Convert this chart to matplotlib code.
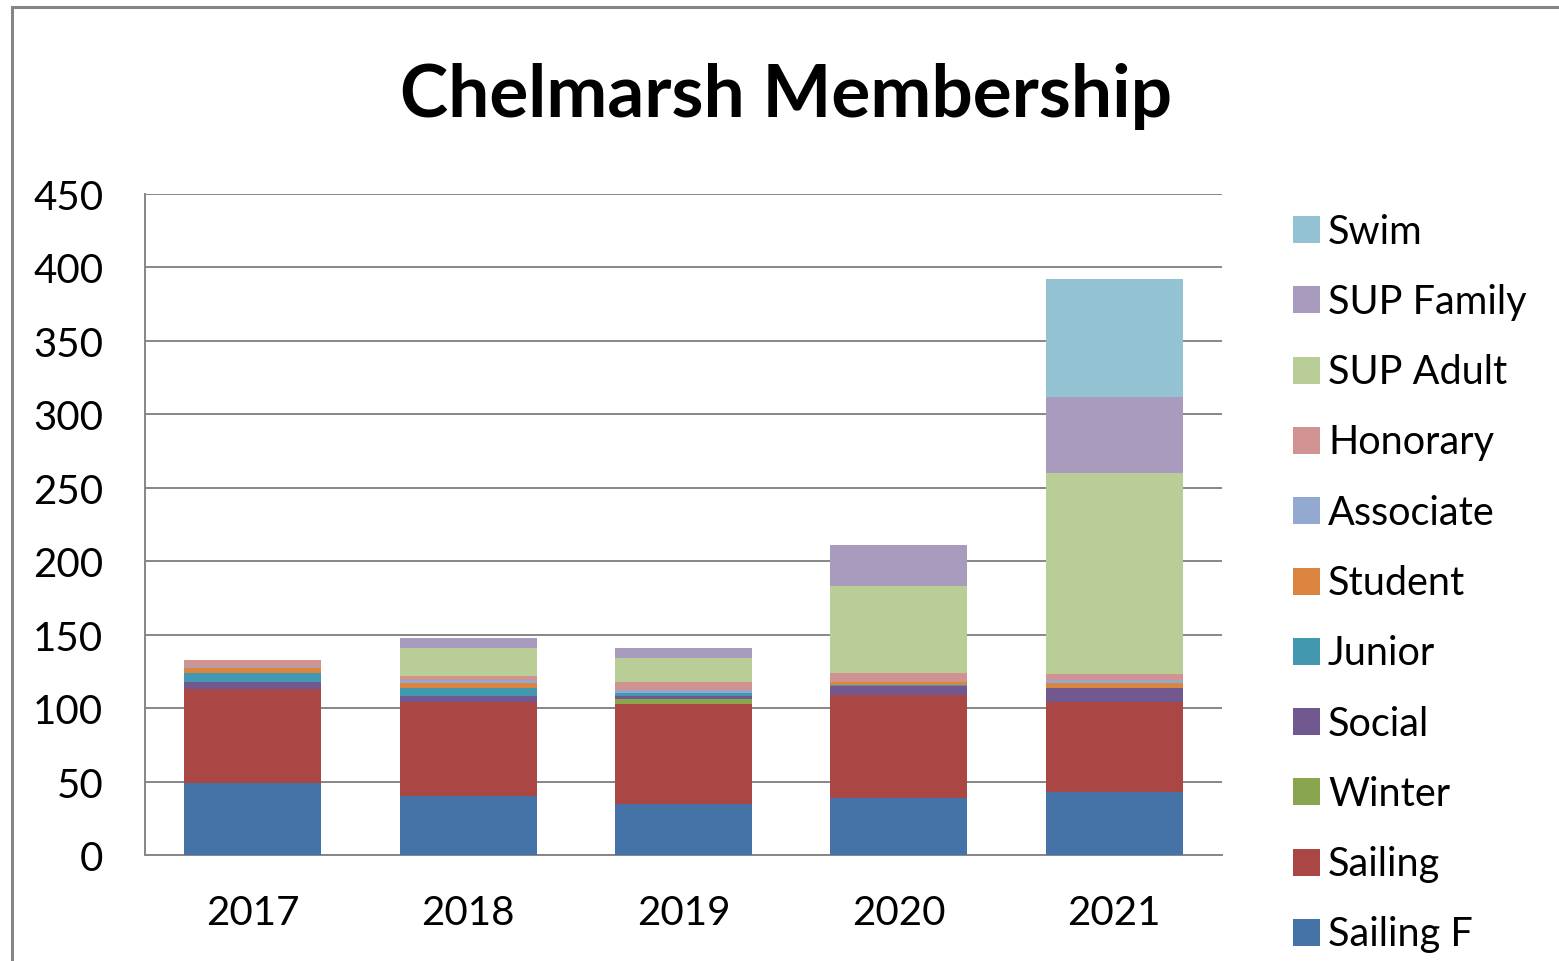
import matplotlib
matplotlib.use("Agg")
import matplotlib.pyplot as plt
from matplotlib.patches import Rectangle
import numpy as np

years = ["2017", "2018", "2019", "2020", "2021"]
series_names = ["Sailing F", "Sailing", "Winter", "Social", "Junior", "Student",
                "Associate", "Honorary", "SUP Adult", "SUP Family", "Swim"]
sailing_f  = [49, 40, 35, 39, 43]
sailing    = [64, 64, 68, 70, 61]
winter     = [0, 0, 3, 0, 0]
social     = [5, 4, 2, 6, 10]
junior     = [6, 6, 2, 1, 0]
student    = [3, 3, 0, 2, 3]
associate  = [1, 2, 2, 0, 2]
honorary   = [5, 3, 6, 6, 4]
sup_adult  = [0, 19, 16, 59, 137]
sup_family = [0, 7, 7, 28, 52]
swim       = [0, 0, 0, 0, 80]
colors = ["#4572A7", "#AA4643", "#89A54E", "#71588F", "#4198AF", "#DB843D",
          "#93A9CF", "#D19392", "#B9CD96", "#A99BBD", "#93C3D3"]
yticks = [0, 50, 100, 150, 200, 250, 300, 350, 400, 450]

data = [sailing_f, sailing, winter, social, junior, student, associate,
        honorary, sup_adult, sup_family, swim]

W, H = 1559, 962
fig = plt.figure(figsize=(W / 100, H / 100), dpi=100)
FONT = "Lato"

ax = fig.add_axes([145 / W, 1 - 856 / H, 1077 / W, 661 / H])
x = np.arange(len(years))
bottom = np.zeros(len(years))
for vals, c in zip(data, colors):
    v = np.array(vals, dtype=float)
    ax.bar(x, v, width=0.636, bottom=bottom, color=c, edgecolor="none", zorder=3)
    bottom += v

ax.set_xlim(-0.5, len(years) - 0.5)
ax.set_ylim(0, 450)
ax.set_yticks(yticks)
ax.set_yticklabels([str(t) for t in yticks], fontsize=29, family=FONT)
ax.set_xticks(x)
ax.set_xticklabels(years, fontsize=29, family=FONT)
ax.tick_params(axis="both", length=0)
ax.tick_params(axis="y", pad=30)
ax.tick_params(axis="x", pad=28)
ax.grid(axis="y", color="#868686", linewidth=1.4, zorder=0)
for s in ["top", "right"]:
    ax.spines[s].set_visible(False)
for s in ["left", "bottom"]:
    ax.spines[s].set_color("#868686")
    ax.spines[s].set_linewidth(1.4)

fig.text(786 / W, 1 - 97 / H, "Chelmarsh Membership", ha="center", va="center",
         fontsize=52.5, fontweight="bold", family=FONT)

# legend (reverse order)
y0, dy = 230.5, 70.3
for i, (name, c) in enumerate(zip(series_names[::-1], colors[::-1])):
    yc = y0 + i * dy
    fig.patches.append(Rectangle((1293 / W, 1 - (yc + 13.5) / H), 27 / W, 27 / H,
                                 transform=fig.transFigure, facecolor=c,
                                 edgecolor="none"))
    fig.text(1328 / W, 1 - (yc - 2) / H, name, ha="left", va="center_baseline",
             fontsize=28.5, family=FONT)

# outer border
fig.patches.append(Rectangle((12 / W, -0.2), 1.3, 1.2 - 8 / H,
                             transform=fig.transFigure, facecolor="none",
                             edgecolor="#868686", linewidth=2.2))

fig.savefig("out.png", dpi=100)
